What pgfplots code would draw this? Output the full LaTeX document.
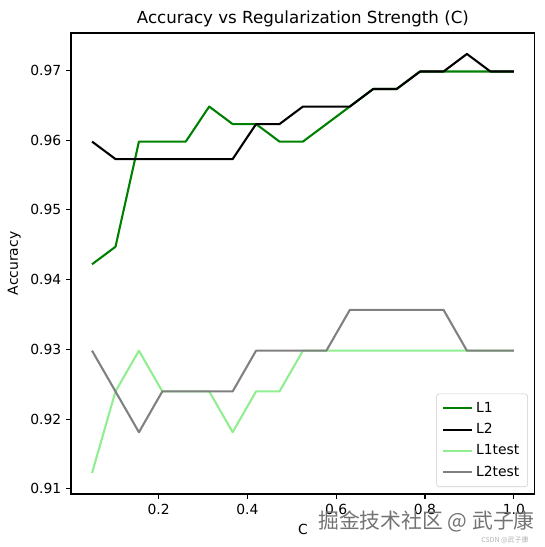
\documentclass[border=0pt]{standalone}
\usepackage{pgfplots}
\pgfplotsset{compat=1.18}
\usepackage{fontspec}
\setmainfont{DejaVu Sans}
\newfontfamily\cjk{Noto Sans CJK SC}
\definecolor{mgreen}{RGB}{0,128,0}
\definecolor{lgreen}{RGB}{144,238,144}
\definecolor{mgray}{RGB}{128,128,128}
\begin{document}
\begin{tikzpicture}
\useasboundingbox (-51.1pt,-38.2pt) rectangle (341.3pt,355.7pt);
\begin{axis}[
  scale only axis, width=334.1pt, height=331.9pt,
  xmin=0.0025, xmax=1.0475, ymin=0.90928, ymax=0.97536,
  xtick={0.2,0.4,0.6,0.8,1.0},
  ytick={0.91,0.92,0.93,0.94,0.95,0.96,0.97},
  xticklabel style={/pgf/number format/.cd,fixed,fixed zerofill,precision=1},
  yticklabel style={/pgf/number format/.cd,fixed,fixed zerofill,precision=2},
  /pgf/number format/assume math mode=true,
  tick align=outside, major tick length=3.5pt,
  tick style={black, line width=0.8pt},
  xtick pos=bottom, ytick pos=left,
  axis line style={line width=0.8pt},
  ticklabel style={font=\fontsize{10}{12}\selectfont},
  title={Accuracy vs Regularization Strength (C)},
  title style={font=\fontsize{12}{14}\selectfont, yshift=-5pt},
  xlabel={C}, ylabel={Accuracy},
  label style={font=\fontsize{10}{12}\selectfont},
  legend style={at={(0.985,0.015)}, anchor=south east, font=\fontsize{10}{12}\selectfont,
    draw=black!20, rounded corners=2pt, fill=white, fill opacity=0.8, text opacity=1,
    row sep=2.5pt, inner xsep=4pt, inner ysep=4pt},
  legend cell align=left,
  legend image code/.code={\draw[#1] (0pt,0pt) -- (21pt,0pt);},
  every axis plot/.append style={line width=1.5pt, line join=round},
]
\addplot[mgreen] coordinates {
(0.0500,0.94221)(0.1028,0.94472)(0.1556,0.95980)(0.2083,0.95980)(0.2611,0.95980)
(0.3139,0.96482)(0.3667,0.96231)(0.4194,0.96231)(0.4722,0.95980)(0.5250,0.95980)
(0.5778,0.96231)(0.6306,0.96482)(0.6833,0.96734)(0.7361,0.96734)(0.7889,0.96985)
(0.8417,0.96985)(0.8944,0.96985)(0.9472,0.96985)(1.0000,0.96985)};
\addlegendentry{L1}
\addplot[black] coordinates {
(0.0500,0.95980)(0.1028,0.95729)(0.1556,0.95729)(0.2083,0.95729)(0.2611,0.95729)
(0.3139,0.95729)(0.3667,0.95729)(0.4194,0.96231)(0.4722,0.96231)(0.5250,0.96482)
(0.5778,0.96482)(0.6306,0.96482)(0.6833,0.96734)(0.7361,0.96734)(0.7889,0.96985)
(0.8417,0.96985)(0.8944,0.97236)(0.9472,0.96985)(1.0000,0.96985)};
\addlegendentry{L2}
\addplot[lgreen] coordinates {
(0.0500,0.91228)(0.1028,0.92398)(0.1556,0.92982)(0.2083,0.92398)(0.2611,0.92398)
(0.3139,0.92398)(0.3667,0.91813)(0.4194,0.92398)(0.4722,0.92398)(0.5250,0.92982)
(0.5778,0.92982)(0.6306,0.92982)(0.6833,0.92982)(0.7361,0.92982)(0.7889,0.92982)
(0.8417,0.92982)(0.8944,0.92982)(0.9472,0.92982)(1.0000,0.92982)};
\addlegendentry{L1test}
\addplot[mgray] coordinates {
(0.0500,0.92982)(0.1028,0.92398)(0.1556,0.91813)(0.2083,0.92398)(0.2611,0.92398)
(0.3139,0.92398)(0.3667,0.92398)(0.4194,0.92982)(0.4722,0.92982)(0.5250,0.92982)
(0.5778,0.92982)(0.6306,0.93567)(0.6833,0.93567)(0.7361,0.93567)(0.7889,0.93567)
(0.8417,0.93567)(0.8944,0.92982)(0.9472,0.92982)(1.0000,0.92982)};
\addlegendentry{L2test}
\end{axis}
\node[text=black!55, font=\cjk\fontsize{15}{17}\selectfont] at (256pt,-20pt) {掘金技术社区 @ 武子康};
\node[text=black!30, font=\cjk\fontsize{5}{6}\selectfont] at (312.5pt,-33.5pt) {CSDN @武子康};
\end{tikzpicture}
\end{document}
